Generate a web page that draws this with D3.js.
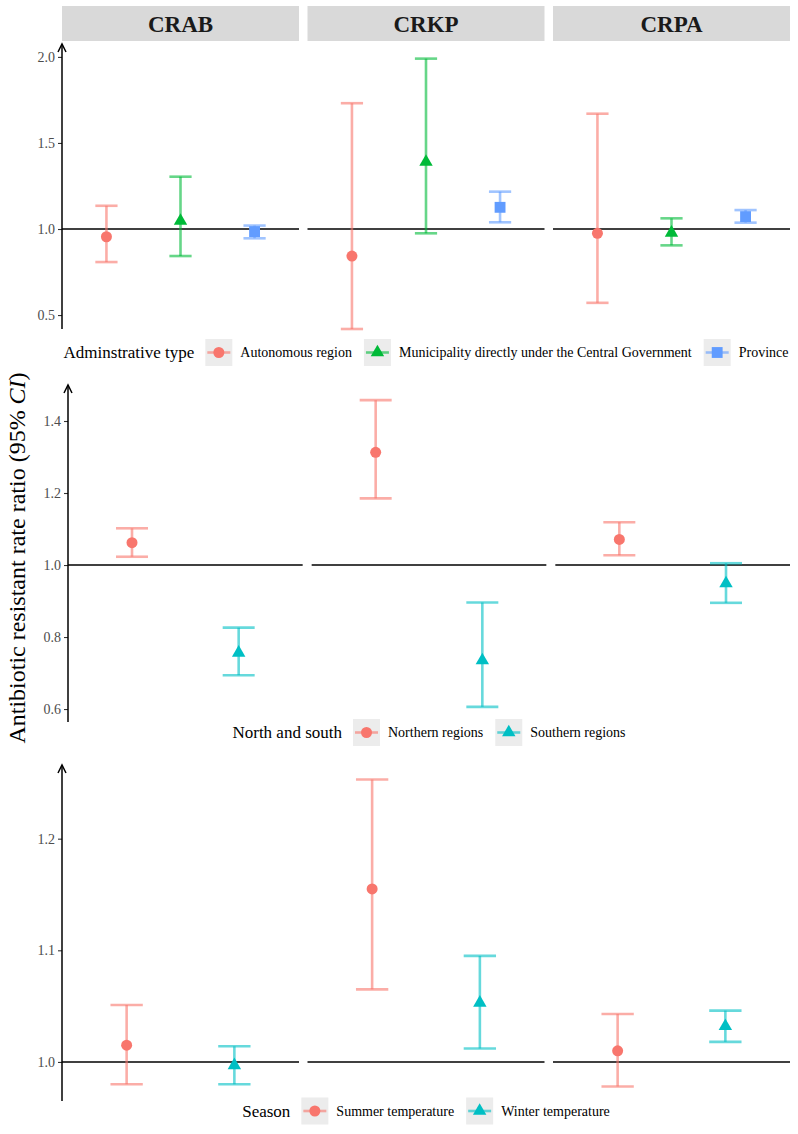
<!DOCTYPE html>
<html><head><meta charset="utf-8">
<script src="https://cdn.jsdelivr.net/npm/d3@7"></script>
<style>body{margin:0;background:#fff} svg{display:block} text{font-family:"Liberation Serif","Times New Roman",serif}</style>
</head><body><svg id="c" width="798" height="1134"></svg>
<script>
// ---------- DATA ----------
const organisms = ["CRAB","CRKP","CRPA"];

const adminTitle = "Adminstrative type";
const adminGroups = ["Autonomous region","Municipality directly under the Central Government","Province"];
const adminEst  = [[0.955,1.047,0.985],[0.843,1.390,1.126],[0.975,0.978,1.072]];
const adminLow  = [[0.808,0.843,0.946],[0.419,0.975,1.039],[0.571,0.905,1.037]];
const adminHigh = [[1.135,1.304,1.020],[1.731,1.990,1.217],[1.670,1.062,1.110]];
const adminTicks = [0.5,1.0,1.5,2.0];
const adminDomain = [0.419,2.075];

const nsTitle = "North and south";
const nsGroups = ["Northern regions","Southern regions"];
const nsEst  = [[1.062,0.756],[1.313,0.735],[1.071,0.949]];
const nsLow  = [[1.023,0.694],[1.185,0.606],[1.027,0.895]];
const nsHigh = [[1.102,0.826],[1.458,0.896],[1.119,1.005]];
const nsTicks = [0.6,0.8,1.0,1.2,1.4];
const nsDomain = [0.564,1.5];

const seasonTitle = "Season";
const seasonGroups = ["Summer temperature","Winter temperature"];
const seasonEst  = [[1.015,0.997],[1.155,1.053],[1.010,1.032]];
const seasonLow  = [[0.980,0.980],[1.065,1.012],[0.978,1.018]];
const seasonHigh = [[1.051,1.014],[1.253,1.095],[1.043,1.046]];
const seasonTicks = [1.0,1.1,1.2];
const seasonDomain = [0.965,1.266];

const yTitle = "Antibiotic resistant rate ratio (95% ";
const yTitleItalic = "CI";

// ---------- STYLE / LAYOUT ----------
const colors3 = ["#F8766D","#00BA38","#619CFF"];
const colors2 = ["#F8766D","#00BFC4"];
const shapes3 = [d3.symbolCircle, d3.symbolTriangle, d3.symbolSquare];
const shapes2 = [d3.symbolCircle, d3.symbolTriangle];
const shapeSize = {circle:95, triangle:78, square:118};

const rows = [
  {title:adminTitle, groups:adminGroups, est:adminEst, low:adminLow, high:adminHigh, ticks:adminTicks, domain:adminDomain,
   colors:colors3, shapes:shapes3, left:62, right:790, gap:8.5, top:44, bottom:329, legendY:352.5, strip:true},
  {title:nsTitle, groups:nsGroups, est:nsEst, low:nsLow, high:nsHigh, ticks:nsTicks, domain:nsDomain,
   colors:colors2, shapes:shapes2, left:68, right:790, gap:9, top:385, bottom:722, legendY:732.5, strip:false},
  {title:seasonTitle, groups:seasonGroups, est:seasonEst, low:seasonLow, high:seasonHigh, ticks:seasonTicks, domain:seasonDomain,
   colors:colors2, shapes:shapes2, left:62, right:790, gap:8.5, top:765, bottom:1101, legendY:1111, strip:false}
];

const svg = d3.select("#c");
svg.append("rect").attr("width",798).attr("height",1134).attr("fill","#fff");

function symSize(s){ return s===d3.symbolCircle?shapeSize.circle:(s===d3.symbolTriangle?shapeSize.triangle:shapeSize.square); }

rows.forEach((row) => {
  const pw = (row.right - row.left - 2*row.gap)/3;
  const y = d3.scaleLinear().domain(row.domain).range([row.bottom,row.top]);
  const g = svg.append("g");

  organisms.forEach((org, oi) => {
    const pl = row.left + oi*(pw + row.gap), pr = pl + pw;
    const x = d3.scalePoint().domain(row.groups).range([pl,pr]).padding(0.6);
    const half = x.step()*0.15;
    const pg = g.append("g");

    if (row.strip) {
      pg.append("rect").attr("x",pl).attr("y",6).attr("width",pw).attr("height",35).attr("fill","#d9d9d9");
      pg.append("text").attr("x",(pl+pr)/2).attr("y",32).attr("text-anchor","middle")
        .attr("font-size",23).attr("font-weight","bold").attr("fill","#1a1a1a").text(org);
    }
    // reference line at 1
    pg.append("line").attr("x1",pl).attr("x2",pr).attr("y1",y(1)).attr("y2",y(1))
      .attr("stroke","#000").attr("stroke-width",1.6);

    row.groups.forEach((grp, gi) => {
      const cx = x(grp);
      const col = row.colors[gi];
      const eb = pg.append("g").attr("stroke",col).attr("stroke-opacity",0.6).attr("stroke-width",2.6).attr("fill","none");
      const lo = row.low[oi][gi], hi = row.high[oi][gi];
      eb.append("line").attr("x1",cx).attr("x2",cx).attr("y1",y(lo)).attr("y2",y(hi));
      eb.append("line").attr("x1",cx-half).attr("x2",cx+half).attr("y1",y(lo)).attr("y2",y(lo));
      eb.append("line").attr("x1",cx-half).attr("x2",cx+half).attr("y1",y(hi)).attr("y2",y(hi));
      const sh = row.shapes[gi];
      pg.append("path").attr("d",d3.symbol(sh, symSize(sh))())
        .attr("transform",`translate(${cx},${y(row.est[oi][gi])})`).attr("fill",col);
    });
  });

  // y axis (first column only)
  const ax = g.append("g").attr("transform",`translate(${row.left},0)`)
    .call(d3.axisLeft(y).tickValues(row.ticks).tickSize(4).tickPadding(3).tickFormat(d3.format(".1f")));
  ax.select(".domain").remove();
  ax.selectAll(".tick line").attr("stroke","#333").attr("stroke-width",1.1);
  ax.selectAll(".tick text").attr("font-size",14).attr("fill","#4d4d4d")
    .attr("font-family",'"Liberation Serif","Times New Roman",serif');
  g.append("line").attr("x1",row.left).attr("x2",row.left).attr("y1",row.bottom).attr("y2",row.top)
    .attr("stroke","#000").attr("stroke-width",1.5);
  g.append("path").attr("d",`M${row.left-4},${row.top+8}L${row.left},${row.top}L${row.left+4},${row.top+8}`)
    .attr("fill","none").attr("stroke","#000").attr("stroke-width",1.5);

  // legend
  const lg = svg.append("g");
  const items = [];
  const tTitle = lg.append("text").attr("font-size",17).attr("fill","#000").attr("dy","0.35em").text(row.title);
  const titleW = tTitle.node().getComputedTextLength();
  const labels = row.groups.map(grp => lg.append("text").attr("font-size",14).attr("fill","#000").attr("dy","0.35em").text(grp));
  const labelW = labels.map(t => t.node().getComputedTextLength());
  const keyW = 27, gapTK = 11, gapKL = 8, gapLK = 12;
  let total = titleW + gapTK;
  labelW.forEach((w,i) => { total += keyW + gapKL + w + (i<labelW.length-1?gapLK:0); });
  const center = (row.left + row.right)/2;
  let cur = center - total/2;
  tTitle.attr("x",cur).attr("y",row.legendY);
  cur += titleW + gapTK;
  row.groups.forEach((grp, gi) => {
    const col = row.colors[gi];
    lg.append("rect").attr("x",cur).attr("y",row.legendY-13.5).attr("width",keyW).attr("height",27).attr("fill","#ececec");
    lg.append("line").attr("x1",cur+2).attr("x2",cur+keyW-2).attr("y1",row.legendY).attr("y2",row.legendY)
      .attr("stroke",col).attr("stroke-opacity",0.6).attr("stroke-width",2.6);
    const sh = row.shapes[gi];
    lg.append("path").attr("d",d3.symbol(sh, symSize(sh))())
      .attr("transform",`translate(${cur+keyW/2},${row.legendY})`).attr("fill",col);
    cur += keyW + gapKL;
    labels[gi].attr("x",cur).attr("y",row.legendY);
    cur += labelW[gi] + gapLK;
  });
});

// y-axis title
const yt = svg.append("text").attr("transform","translate(25,558) rotate(-90)")
  .attr("text-anchor","middle").attr("font-size",24).attr("fill","#000");
yt.append("tspan").text(yTitle);
yt.append("tspan").attr("font-style","italic").text(yTitleItalic);
yt.append("tspan").text(")");
</script></body></html>
